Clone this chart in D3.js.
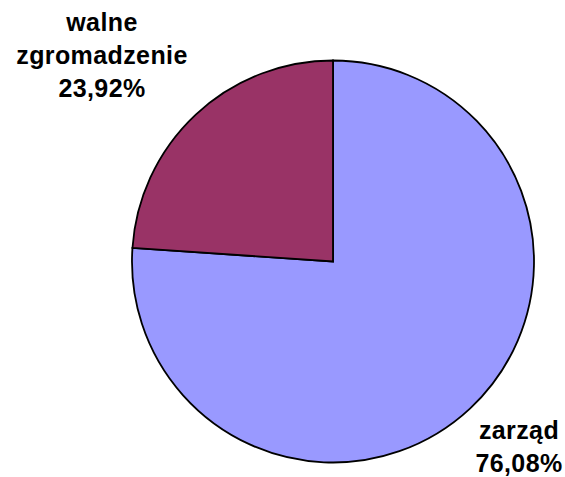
<!DOCTYPE html>
<html>
<head>
<meta charset="utf-8">
<script src="https://cdn.jsdelivr.net/npm/d3@7"></script>
<style>
  body { margin: 0; background: #fff; }
  .lbl { font-family: "Liberation Sans", Arial, sans-serif; font-weight: bold; font-size: 25px; letter-spacing: 0.4px; fill: #000; }
</style>
</head>
<body>
<svg id="chart" width="565" height="477"></svg>
<script>
// dane
var labels = ['zarząd', 'walne zgromadzenie'];
var values = [76.08, 23.92];
var valueText = ['76,08%', '23,92%'];
var colors = ['#9999FF', '#993366'];

var svg = d3.select('#chart');
var cx = 333, cy = 261.5, r = 201;

var pie = d3.pie().sort(null).value(function(d) { return d; });
var arc = d3.arc().innerRadius(0).outerRadius(r);

var g = svg.append('g').attr('transform', 'translate(' + cx + ',' + cy + ')');
g.selectAll('path').data(pie(values)).enter().append('path')
  .attr('d', arc)
  .attr('fill', function(d, i) { return colors[i]; })
  .attr('stroke', '#000')
  .attr('stroke-width', 1.8)
  .attr('stroke-linejoin', 'miter');

// etykiety
var labelPos = [
  { x: 519, y: 439, lines: ['zarząd', valueText[0]] },
  { x: 102, y: 31, lines: ['walne', 'zgromadzenie', valueText[1]] }
];
labelPos.forEach(function(p) {
  var t = svg.append('text').attr('class', 'lbl').attr('text-anchor', 'middle');
  p.lines.forEach(function(s, k) {
    t.append('tspan').attr('x', p.x).attr('y', p.y + k * 33).text(s);
  });
});
</script>
</body>
</html>
